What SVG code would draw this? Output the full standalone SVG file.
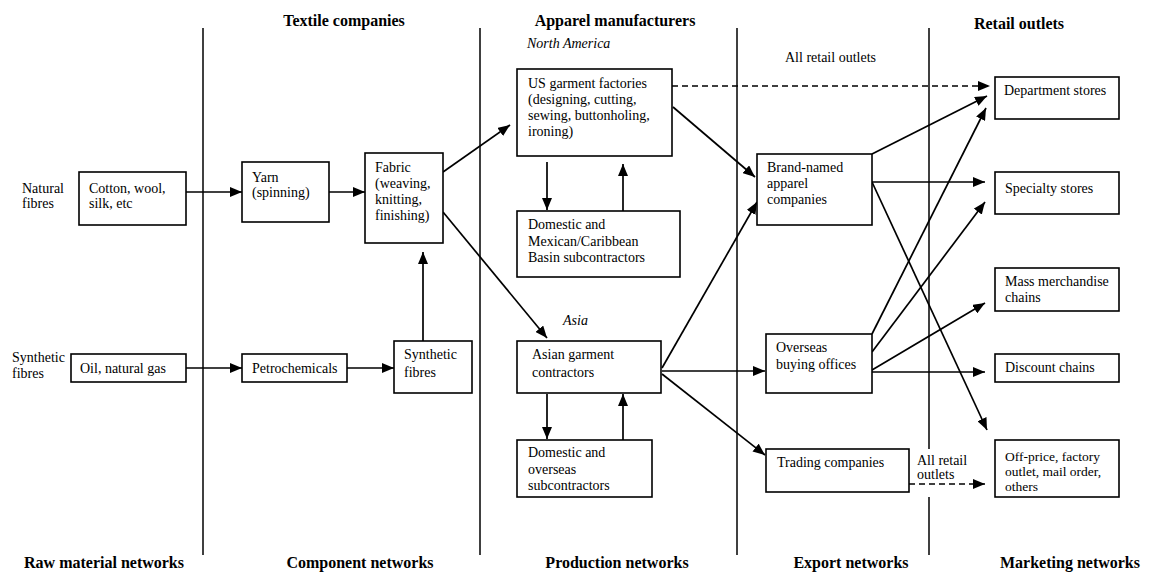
<svg xmlns="http://www.w3.org/2000/svg" width="1149" height="574" viewBox="0 0 1149 574">
<defs>
<style>
text{font-family:"Liberation Serif","Times New Roman",serif;font-size:14px;fill:#000}
.h{font-weight:bold;font-size:16px;text-anchor:middle}
.i{font-style:italic}
.box{fill:#fff;stroke:#000;stroke-width:1.6}
.div{stroke:#000;stroke-width:1.5;fill:none}
.c{stroke:#000;stroke-width:1.7;fill:none;marker-end:url(#ah)}
.d{stroke-dasharray:6 4}
.sm{font-size:13.5px}
</style>
<marker id="ah" viewBox="0 0 12 10" refX="12" refY="5" markerWidth="12" markerHeight="10" markerUnits="userSpaceOnUse" orient="auto">
<path d="M0,0 L12,5 L0,10 z" fill="#000"/>
</marker>
</defs>
<rect width="1149" height="574" fill="#fff"/>

<g id="dividers">
<line class="div" x1="203" y1="28" x2="203" y2="555"/>
<line class="div" x1="480" y1="28" x2="480" y2="555"/>
<line class="div" x1="737" y1="28" x2="737" y2="555"/>
<line class="div" x1="929" y1="28" x2="929" y2="449"/>
<line class="div" x1="929" y1="497" x2="929" y2="555"/>
</g>

<g id="headers">
<text class="h" x="344" y="26">Textile companies</text>
<text class="h" x="615" y="26">Apparel manufacturers</text>
<text class="h" x="1019" y="29">Retail outlets</text>
<text class="h" x="104" y="568">Raw material networks</text>
<text class="h" x="360" y="568">Component networks</text>
<text class="h" x="617" y="568">Production networks</text>
<text class="h" x="851" y="568">Export networks</text>
<text class="h" x="1070" y="568">Marketing networks</text>
<text class="i" x="527" y="48">North America</text>
<text class="i" x="563" y="325">Asia</text>
<text x="785" y="62">All retail outlets</text>
<text x="917" y="465">All retail</text>
<text x="917" y="479">outlets</text>
<text x="22" y="193">Natural</text>
<text x="22" y="208">fibres</text>
<text x="12" y="362">Synthetic</text>
<text x="12" y="378">fibres</text>
</g>

<g id="connectors">
<path class="c" d="M186,192 L242,192"/>
<path class="c" d="M329,192 L365,192"/>
<path class="c" d="M186,368 L242,368"/>
<path class="c" d="M347,368 L394,368"/>
<path class="c" d="M423,341 L423,252"/>
<path class="c" d="M443,172 L510,125"/>
<path class="c" d="M443,212 L547,338"/>
<path class="c" d="M547,162 L547,210"/>
<path class="c" d="M623,211 L623,164"/>
<path class="c" d="M547,394 L547,439"/>
<path class="c" d="M623,440 L623,394"/>
<path class="c" d="M673,107 L755,177"/>
<path class="c d" d="M672,86 L990,86"/>
<path class="c" d="M662,368 L757,202"/>
<path class="c" d="M662,371 L765,371"/>
<path class="c" d="M662,374 L765,455"/>
<path class="c" d="M872,154 L987,96"/>
<path class="c" d="M872,182 L985,182"/>
<path class="c" d="M872,182 L987,430"/>
<path class="c" d="M872,334 L986,108"/>
<path class="c" d="M872,352 L985,202"/>
<path class="c" d="M872,370 L985,303"/>
<path class="c" d="M872,372 L985,372"/>
<path class="c d" d="M909,484 L985,484"/>
</g>

<g id="n-cotton"><rect class="box" x="79" y="172" width="107" height="53"/>
<text x="89" y="193">Cotton, wool,</text><text x="89" y="208">silk, etc</text></g>
<g id="n-yarn"><rect class="box" x="242" y="162" width="87" height="60"/>
<text x="252" y="182">Yarn</text><text x="252" y="197">(spinning)</text></g>
<g id="n-fabric"><rect class="box" x="365" y="153" width="78" height="90"/>
<text x="375" y="172">Fabric</text><text x="375" y="188">(weaving,</text><text x="375" y="204">knitting,</text><text x="375" y="220">finishing)</text></g>
<g id="n-oil"><rect class="box" x="71" y="354" width="115" height="28"/>
<text x="80" y="373">Oil, natural gas</text></g>
<g id="n-petro"><rect class="box" x="242" y="354" width="105" height="28"/>
<text x="252" y="373">Petrochemicals</text></g>
<g id="n-synth"><rect class="box" x="394" y="341" width="78" height="52"/>
<text x="404" y="359">Synthetic</text><text x="404" y="377">fibres</text></g>
<g id="n-us"><rect class="box" x="517" y="69" width="155" height="87"/>
<text x="528" y="88">US garment factories</text><text x="528" y="104">(designing, cutting,</text><text x="528" y="120">sewing, buttonholing,</text><text x="528" y="136">ironing)</text></g>
<g id="n-dommex"><rect class="box" x="517" y="211" width="163" height="66"/>
<text x="528" y="229">Domestic and</text><text x="528" y="246">Mexican/Caribbean</text><text x="528" y="262">Basin subcontractors</text></g>
<g id="n-asian"><rect class="box" x="517" y="341" width="144" height="52"/>
<text x="532" y="359">Asian garment</text><text x="532" y="377">contractors</text></g>
<g id="n-domover"><rect class="box" x="517" y="440" width="135" height="57"/>
<text x="528" y="457">Domestic and</text><text x="528" y="474">overseas</text><text x="528" y="490">subcontractors</text></g>
<g id="n-brand"><rect class="box" x="757" y="154" width="115" height="71"/>
<text x="767" y="172">Brand-named</text><text x="767" y="188">apparel</text><text x="767" y="204">companies</text></g>
<g id="n-overseas"><rect class="box" x="766" y="334" width="106" height="59"/>
<text x="776" y="352">Overseas</text><text x="776" y="369">buying offices</text></g>
<g id="n-trading"><rect class="box" x="766" y="449" width="143" height="43"/>
<text x="777" y="467">Trading companies</text></g>
<g id="n-dept"><rect class="box" x="995" y="77" width="124" height="42"/>
<text x="1004" y="95">Department stores</text></g>
<g id="n-spec"><rect class="box" x="995" y="172" width="124" height="42"/>
<text x="1005" y="193">Specialty stores</text></g>
<g id="n-mass"><rect class="box" x="995" y="268" width="124" height="43"/>
<text x="1005" y="286">Mass merchandise</text><text x="1005" y="302">chains</text></g>
<g id="n-disc"><rect class="box" x="995" y="354" width="124" height="28"/>
<text x="1005" y="372">Discount chains</text></g>
<g id="n-off"><rect class="box" x="995" y="440" width="124" height="57"/>
<text class="sm" x="1005" y="461">Off-price, factory</text><text class="sm" x="1005" y="476">outlet, mail order,</text><text class="sm" x="1005" y="491">others</text></g>
</svg>
